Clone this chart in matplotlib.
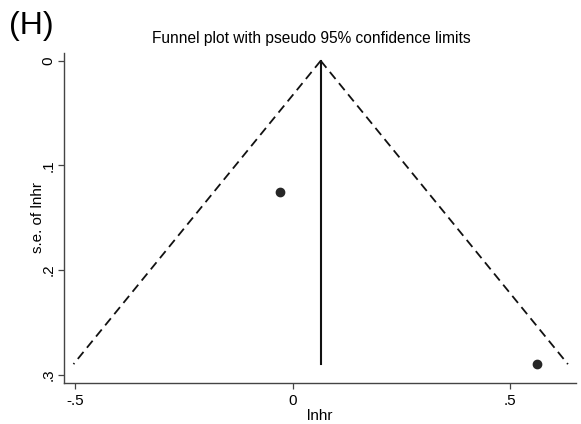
import matplotlib
matplotlib.use("Agg")
import matplotlib.pyplot as plt
import numpy as np

# study estimates (log hazard ratio and its standard error)
lnhr = [-0.028, 0.561]
se_lnhr = [0.125, 0.290]

# pooled estimate, and the largest se drawn for the funnel
theta = 0.0645
se_max = 0.290

xticks = [-0.5, 0, 0.5]
xtick_labels = ["-.5", "0", ".5"]
yticks = [0, 0.1, 0.2, 0.3]
ytick_labels = ["0", ".1", ".2", ".3"]

plt.rcParams['font.family'] = ['Liberation Sans', 'DejaVu Sans']

fig = plt.figure(figsize=(5.81, 4.24), dpi=100)
ax = fig.add_axes([0.110, 0.0967, 0.881, 0.779])

# pseudo 95% limits
se_line = np.array([0, se_max])
ax.plot(theta - 1.96 * se_line, se_line, color="#111111", lw=1.3, ls=(0, (5, 3)))
ax.plot(theta + 1.96 * se_line, se_line, color="#111111", lw=1.3, ls=(0, (5, 3)))
ax.plot([theta, theta], [0, se_max], color="#111111", lw=1.5)

ax.plot(lnhr, se_lnhr, "o", color="#262626", ms=6)

ax.set_xlim(-0.526, 0.651)
ax.set_ylim(0.308, -0.0077)

ax.set_xticks(xticks)
ax.set_xticklabels(xtick_labels)
ax.set_yticks(yticks)
ax.set_yticklabels(ytick_labels, rotation=90, va="center")

for s in ["top", "right"]:
    ax.spines[s].set_visible(False)
for s in ["left", "bottom"]:
    ax.spines[s].set_color("#444444")
    ax.spines[s].set_linewidth(1.0)
ax.tick_params(direction="out", length=4.3, width=0.9, colors="#444444",
               labelcolor="black", labelsize=11)
ax.tick_params(axis="x", pad=3.5)
ax.tick_params(axis="y", pad=1.5)

ax.set_xlabel("lnhr", fontsize=11, labelpad=0.5)
ax.set_ylabel("s.e. of lnhr", fontsize=11, labelpad=-2)
fig.text(311 / 581, 1 - 38 / 424, "Funnel plot with pseudo 95% confidence limits",
         fontsize=11.2, ha="center", va="center")

fig.text(0.015, 0.938, "(H)", fontsize=23, ha="left", va="center")

fig.savefig("out.png", dpi=100)
